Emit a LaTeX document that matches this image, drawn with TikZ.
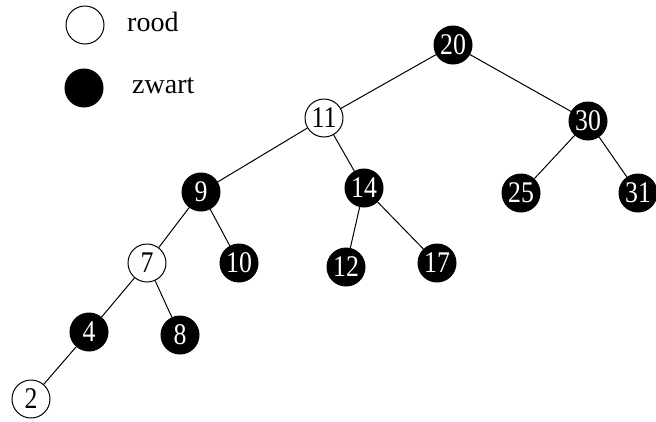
\documentclass[tikz,border=0pt]{standalone}
\usepackage{fontspec}
\setmainfont{Liberation Serif}
\newfontfamily\keyfont[FakeStretch=0.86]{Liberation Serif}
\begin{document}
\begin{tikzpicture}[x=1pt,y=-1pt,
  rb/.style={circle,draw=black,line width=1pt,minimum size=38pt,inner sep=0pt,
    font=\keyfont\fontsize{30}{30}\selectfont},
  red/.style={rb,fill=white,text=black},
  blk/.style={rb,fill=black,text=white},
  lbl/.style={anchor=base west,inner sep=0pt,font=\fontsize{28}{28}\selectfont},
  edge/.style={line width=1pt}]
\useasboundingbox (0,0) rectangle (656,421);
% legend
\node[red] (lr) at (85,25) {};
\node[lbl] (lrt) at (127,31) {rood};
\node[blk] (lb) at (84,88) {};
\node[lbl] (lbt) at (132,93) {zwart};
% tree nodes
\node[blk] (n20) at (453,45) {20};
\node[red] (n11) at (324,118) {11};
\node[blk] (n30) at (588,121) {30};
\node[blk] (n9)  at (201,192) {9};
\node[blk] (n14) at (364,188) {14};
\node[blk] (n25) at (521,193) {25};
\node[blk] (n31) at (638,193) {31};
\node[red] (n7)  at (147,263) {7};
\node[blk] (n10) at (239,263) {10};
\node[blk] (n12) at (346,267) {12};
\node[blk] (n17) at (437,263) {17};
\node[blk] (n4)  at (89,332) {4};
\node[blk] (n8)  at (180,335) {8};
\node[red] (n2)  at (31,399) {2};
% edges
\draw[edge] (n20) -- (n11);
\draw[edge] (n20) -- (n30);
\draw[edge] (n11) -- (n9);
\draw[edge] (n11) -- (n14);
\draw[edge] (n30) -- (n25);
\draw[edge] (n30) -- (n31);
\draw[edge] (n9) -- (n7);
\draw[edge] (n9) -- (n10);
\draw[edge] (n14) -- (n12);
\draw[edge] (n14) -- (n17);
\draw[edge] (n7) -- (n4);
\draw[edge] (n7) -- (n8);
\draw[edge] (n4) -- (n2);
\end{tikzpicture}
\end{document}
